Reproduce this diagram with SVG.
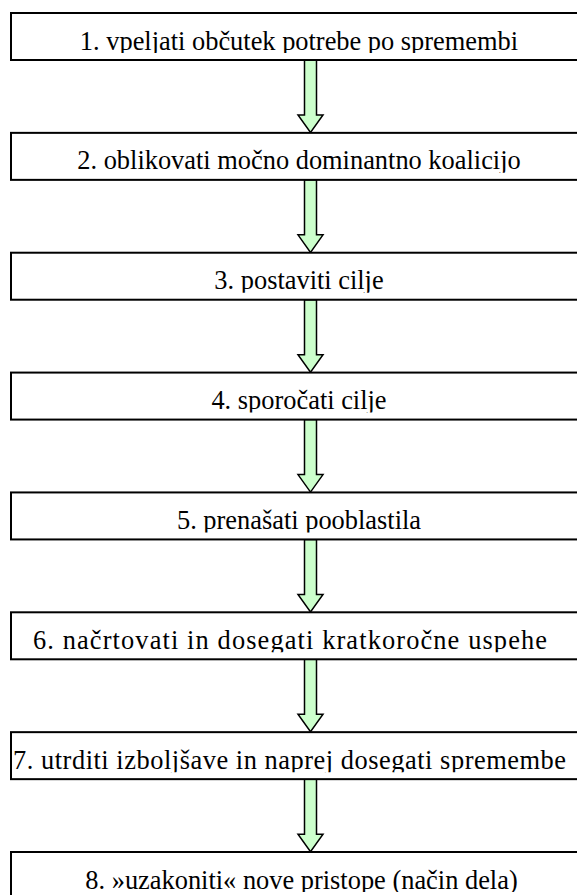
<svg xmlns="http://www.w3.org/2000/svg" width="577" height="895" viewBox="0 0 577 895">
  <style>
    .box { fill: #ffffff; stroke: #000000; stroke-width: 2; }
    .label { font-family: 'Liberation Serif', serif; font-size: 26.4px; fill: #000000; text-anchor: middle; }
    .arrow { fill: #ccffcc; stroke: #000000; stroke-width: 1.5; stroke-linejoin: miter; }
  </style>
  <defs>
    <!-- text inside each step box is cut off just under the baseline -->
    <clipPath id="textClip">
      <rect x="0" y="0" width="600" height="40"/>
    </clipPath>
    <!-- down arrow, drawn from y=0 (bottom of a box) -->
    <polygon id="downArrow" class="arrow" points="304.5,0 316.5,0 316.5,55 323,55 310.5,72.5 298,55 304.5,55"/>
  </defs>
  <rect width="577" height="895" fill="#ffffff"/>

  <g id="connectors">
    <use href="#downArrow" transform="translate(0,60)"/>
    <use href="#downArrow" transform="translate(0,179.86)"/>
    <use href="#downArrow" transform="translate(0,299.72)"/>
    <use href="#downArrow" transform="translate(0,419.58)"/>
    <use href="#downArrow" transform="translate(0,539.44)"/>
    <use href="#downArrow" transform="translate(0,659.3)"/>
    <use href="#downArrow" transform="translate(0,779.16)"/>
  </g>

  <g id="step1" transform="translate(0,13)">
    <rect class="box" x="11" y="0" width="576" height="47"/>
    <text class="label" font-family="Liberation Serif, serif" x="299" y="36.5" clip-path="url(#textClip)">1. vpeljati občutek potrebe po spremembi</text>
  </g>
  <g id="step2" transform="translate(0,132.86)">
    <rect class="box" x="11" y="0" width="576" height="47"/>
    <text class="label" font-family="Liberation Serif, serif" x="299" y="36.5" clip-path="url(#textClip)">2. oblikovati močno dominantno koalicijo</text>
  </g>
  <g id="step3" transform="translate(0,252.72)">
    <rect class="box" x="11" y="0" width="576" height="47"/>
    <text class="label" font-family="Liberation Serif, serif" x="299" y="36.5" clip-path="url(#textClip)">3. postaviti cilje</text>
  </g>
  <g id="step4" transform="translate(0,372.58)">
    <rect class="box" x="11" y="0" width="576" height="47"/>
    <text class="label" font-family="Liberation Serif, serif" x="299" y="36.5" clip-path="url(#textClip)">4. sporočati cilje</text>
  </g>
  <g id="step5" transform="translate(0,492.44)">
    <rect class="box" x="11" y="0" width="576" height="47"/>
    <text class="label" font-family="Liberation Serif, serif" x="299" y="36.5" clip-path="url(#textClip)">5. prenašati pooblastila</text>
  </g>
  <g id="step6" transform="translate(0,612.3)">
    <rect class="box" x="11" y="0" width="576" height="47"/>
    <text class="label" font-family="Liberation Serif, serif" x="290" y="36.5" textLength="514" lengthAdjust="spacing" clip-path="url(#textClip)">6. načrtovati in dosegati kratkoročne uspehe</text>
  </g>
  <g id="step7" transform="translate(0,732.16)">
    <rect class="box" x="11" y="0" width="576" height="47"/>
    <text class="label" font-family="Liberation Serif, serif" x="289.5" y="36.5" textLength="553" lengthAdjust="spacing" clip-path="url(#textClip)">7. utrditi izboljšave in naprej dosegati spremembe</text>
  </g>
  <g id="step8" transform="translate(0,852)">
    <rect class="box" x="11" y="0" width="576" height="47"/>
    <text class="label" font-family="Liberation Serif, serif" x="301.5" y="36.5" clip-path="url(#textClip)">8. »uzakoniti« nove pristope (način dela)</text>
  </g>
</svg>
